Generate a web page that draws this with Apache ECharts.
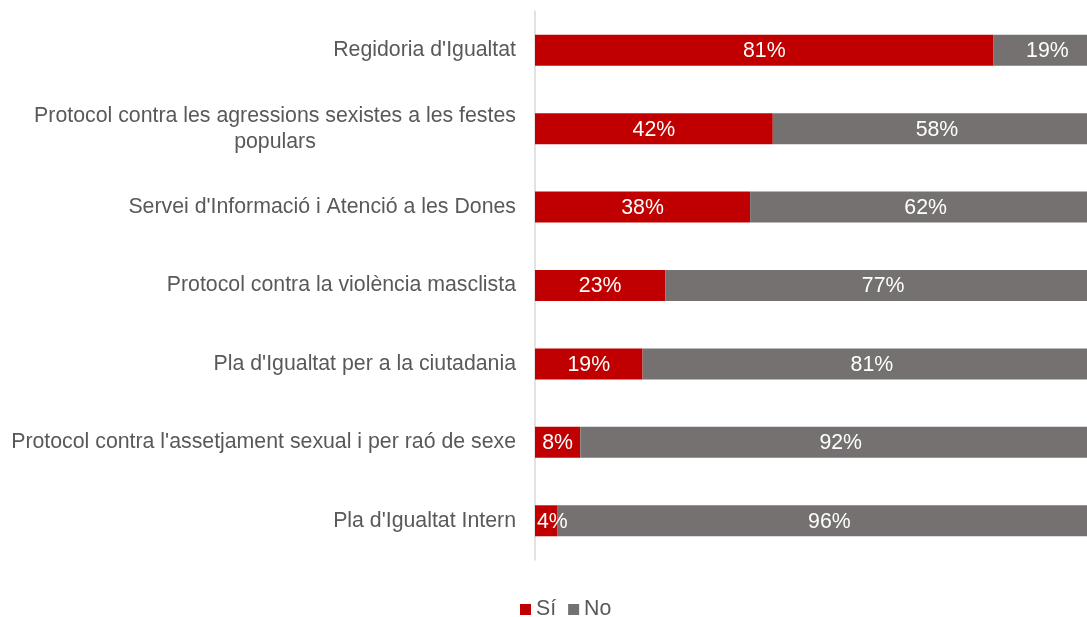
<!DOCTYPE html>
<html>
<head>
<meta charset="utf-8">
<style>
  html, body { margin: 0; padding: 0; background: #ffffff; }
  #chart { width: 1087px; height: 617px; }
</style>
<script src="https://cdn.jsdelivr.net/npm/echarts@6/dist/echarts.min.js"></script>
</head>
<body>
<div id="chart"></div>
<script>
// Services and protocols asked about, top to bottom
const categories = [
  "Regidoria d'Igualtat",
  "Protocol contra les agressions sexistes a les festes\npopulars",
  "Servei d'Informació i Atenció a les Dones",
  "Protocol contra la violència masclista",
  "Pla d'Igualtat per a la ciutadania",
  "Protocol contra l'assetjament sexual i per raó de sexe",
  "Pla d'Igualtat Intern"
];
const seriesNames = ["Sí", "No"];
const valuesSi = [81, 42, 38, 23, 19, 8, 4];
const valuesNo = [19, 58, 62, 77, 81, 92, 96];

const FONT = "'Liberation Sans', Arial, sans-serif";
const LABEL_SIZE = 21.3;
// the 100% end of the bars runs a little past the right edge of the canvas
const AXIS_MAX = 97.5;

// Width of the longest line of a wrapped label, so its lines can be centred on each other
function textWidth(str) {
  const ctx = document.createElement('canvas').getContext('2d');
  ctx.font = LABEL_SIZE + 'px ' + FONT;
  return Math.ceil(ctx.measureText(str).width);
}

const chart = echarts.init(document.getElementById('chart'), null, { renderer: 'canvas' });

const labelFormatter = function (value) {
  const lines = value.split('\n');
  if (lines.length === 1) return value;
  return lines.map(l => '{c|' + l + '}').join('\n');
};
const wrapWidth = Math.max(...categories.filter(c => c.includes('\n'))
  .flatMap(c => c.split('\n')).map(textWidth));

const segLabel = {
  show: true,
  position: 'inside',
  offset: [0, 1],
  color: '#ffffff',
  fontFamily: FONT,
  fontSize: LABEL_SIZE,
  formatter: '{c}%'
};

// very thin segments keep their label starting at the bar's left edge
const siData = valuesSi.map(v => v < 5
  ? { value: v, label: { position: 'insideLeft', distance: 2 } }
  : v);

chart.setOption({
  animation: false,
  backgroundColor: '#ffffff',
  grid: { left: 535, right: 0, top: 11, bottom: 57, containLabel: false },
  legend: {
    top: 599,
    left: 520,
    padding: 0,
    itemWidth: 11,
    itemHeight: 11,
    itemGap: 12,
    icon: 'rect',
    textStyle: { color: '#595959', fontFamily: FONT, fontSize: LABEL_SIZE },
    data: seriesNames
  },
  xAxis: {
    type: 'value',
    min: 0,
    max: AXIS_MAX,
    show: false
  },
  yAxis: {
    type: 'category',
    inverse: true,
    data: categories,
    axisLine: { show: true, lineStyle: { color: '#D9D9D9', width: 1.5 } },
    axisTick: { show: false },
    axisLabel: {
      color: '#595959',
      fontFamily: FONT,
      fontSize: LABEL_SIZE,
      margin: 19,
      lineHeight: 26,
      formatter: labelFormatter,
      rich: {
        c: {
          width: wrapWidth,
          align: 'center',
          color: '#595959',
          fontFamily: FONT,
          fontSize: LABEL_SIZE,
          lineHeight: 26
        }
      }
    }
  },
  series: [
    {
      name: seriesNames[0],
      type: 'bar',
      stack: 'total',
      barWidth: 31,
      clip: false,
      itemStyle: { color: '#C00000' },
      label: segLabel,
      data: siData
    },
    {
      name: seriesNames[1],
      type: 'bar',
      stack: 'total',
      barWidth: 31,
      clip: false,
      itemStyle: { color: '#767171' },
      label: segLabel,
      data: valuesNo
    }
  ]
});
</script>
</body>
</html>
